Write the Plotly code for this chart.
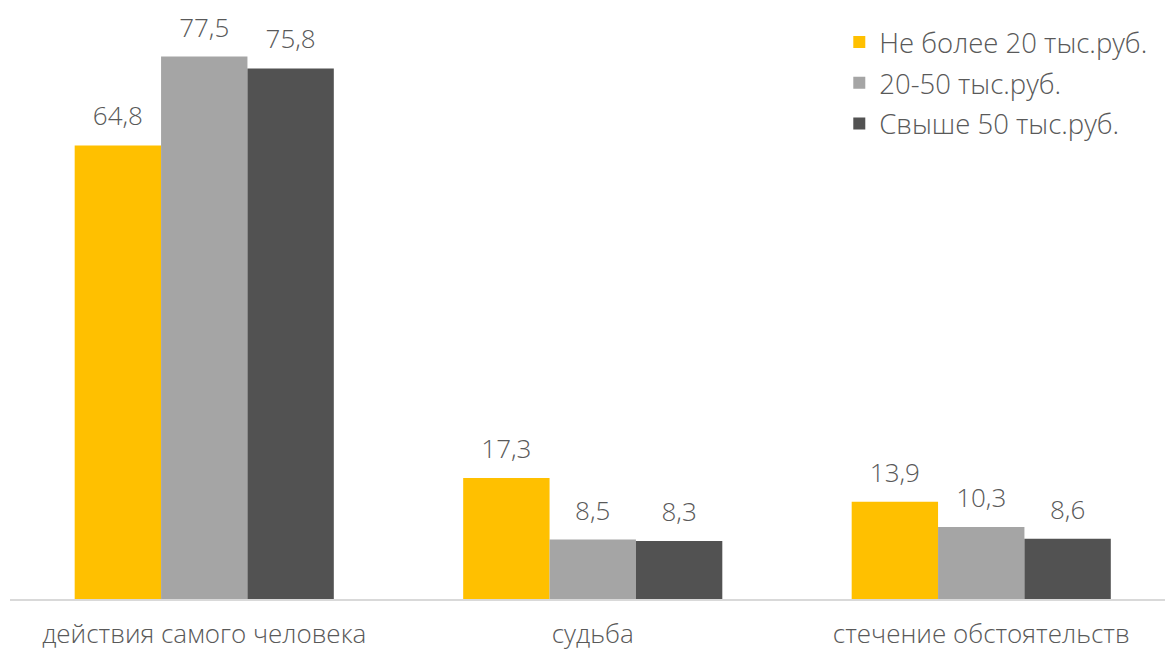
import plotly.graph_objects as go

categories = ["действия самого человека", "судьба", "стечение обстоятельств"]
series_names = ["Не более 20 тыс.руб.", "20-50 тыс.руб.", "Свыше 50 тыс.руб."]
low_income = [64.8, 17.3, 13.9]
mid_income = [77.5, 8.5, 10.3]
high_income = [75.8, 8.3, 8.6]
colors = ["#FFC000", "#A5A5A5", "#525252"]

FONT = "Open Sans"
TXT = "#595959"
SIZE = 26

fig = go.Figure()
all_vals = [low_income, mid_income, high_income]
for i, (name, vals) in enumerate(zip(series_names, all_vals)):
    fig.add_trace(go.Bar(
        x=categories, y=vals, name=name, legendgroup=f"g{i}",
        marker=dict(color=colors[i], line=dict(width=0)),
        hoverinfo="skip",
    ))
for i, (name, vals) in enumerate(zip(series_names, all_vals)):
    fig.add_trace(go.Scatter(
        x=categories, y=vals, mode="markers+text", showlegend=False,
        marker=dict(size=20, color="rgba(0,0,0,0)"),
        texttemplate="%{y:.1f}", textposition="top center", cliponaxis=False,
        textfont=dict(family=FONT, size=SIZE, color=TXT, weight=300),
        hoverinfo="skip",
    ))

fig.update_layout(
    width=1165, height=650,
    margin=dict(l=10, r=0, t=4, b=51, autoexpand=False),
    paper_bgcolor="white", plot_bgcolor="white",
    barmode="group", bargap=0.333, bargroupgap=0,
    scattermode="group", scattergap=0.333,
    separators=", ",
    font=dict(family=FONT, size=SIZE, color=TXT, weight=300),
    xaxis=dict(range=[-0.5, 2.473], showline=True, linecolor="#D9D9D9", linewidth=1.5,
               ticks="", tickfont=dict(family=FONT, size=SIZE, color=TXT, weight=300),
               showgrid=False, automargin=False, ticklabelstandoff=11),
    yaxis=dict(range=[0, 85], visible=False, showgrid=False, zeroline=False, automargin=False),
    legend=dict(x=0.718, y=0.977, xanchor="left", yanchor="top", xref="paper", yref="paper",
                font=dict(family=FONT, size=27.5, color=TXT, weight=300), tracegroupgap=2,
                bgcolor="rgba(0,0,0,0)", itemwidth=30),
)
fig.write_html("out.html", config={"displayModeBar": False},
               post_script="document.body.style.margin='0';")
